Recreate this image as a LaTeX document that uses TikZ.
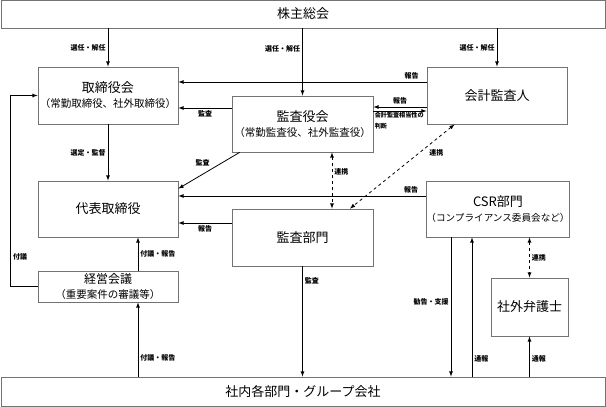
\documentclass[tikz,border=0pt]{standalone}
\usepackage{fontspec}
\setmainfont{Noto Sans CJK JP}
\usepackage{tikz}
\usetikzlibrary{calc}

\definecolor{boxline}{gray}{0.45}
\tikzset{
	box/.style={draw=boxline, line width=0.8pt, align=center, inner sep=0pt},
	lbl/.style={font=\fontsize{7}{8}\selectfont\bfseries, inner sep=2pt},
	big/.style={font=\fontsize{13}{15}\selectfont},
}
\newcommand{\sub}[1]{{\fontsize{10.5}{12}\selectfont #1}}

\begin{document}
\begin{tikzpicture}[x=1pt, y=-1pt, line width=0.8pt]
				\useasboundingbox (0,0) rectangle (606,407);
				
				\node[box, big, minimum width=604pt, minimum height=28pt] (soukai) at (303, 14) {株主総会};
				\node[box, big, minimum width=140pt, minimum height=57pt] (torishimari) at (108, 95.5) {取締役会\\\sub{（常勤取締役、社外取締役）}};
				\node[box, big, minimum width=141pt, minimum height=56pt] (kansayaku) at (302.5, 124) {監査役会\\\sub{（常勤監査役、社外監査役）}};
				\node[box, big, minimum width=140pt, minimum height=57pt] (kaikei) at (497, 95.5) {会計監査人};
				\node[box, big, minimum width=140pt, minimum height=56pt] (daihyo) at (108, 209) {代表取締役};
				\node[box, big, minimum width=141pt, minimum height=57pt] (kansabu) at (302.5, 237.5) {監査部門};
				\node[box, big, minimum width=140pt, minimum height=56pt] (csr) at (498, 209) {CSR部門\\{\fontsize{9.6}{12}\selectfont（コンプライアンス委員会など）}};
				\node[box, big, minimum width=140pt, minimum height=31pt] (keiei) at (108, 286.5) {\fontsize{12}{13}\selectfont 経営会議\\\sub{（重要案件の審議等）}};
				\node[box, big, minimum width=77pt, minimum height=58pt] (bengoshi) at (529.5, 307) {社外弁護士};
				\node[box, big, minimum width=604pt, minimum height=29pt] (shanai) at (303, 391.5) {社内各部門・グループ会社};
				
				\draw [-latex](soukai.south -| torishimari) -- (torishimari.north) node[lbl, midway, left]{選任・解任};
				\draw [-latex](soukai.south -| kansayaku) -- (kansayaku.north) node[lbl, pos=0.3, left]{選任・解任};
				\draw [-latex](soukai.south -| kaikei) -- (kaikei.north) node[lbl, midway, left]{選任・解任};
				
				\coordinate (k0) at ([yshift=13.5pt]kaikei.west);
				\draw [-latex](k0) -- (k0 -| torishimari.east) node[lbl, pos=0.06, above]{報告};
				\coordinate (k1) at ([yshift=16pt]kansayaku.west);
				\draw [-latex](k1) -- (k1 -| torishimari.east) node[lbl, midway, below]{監査};
				\coordinate (h1) at ([yshift=17pt]kansayaku.east);
				\coordinate (h2) at ([yshift=13pt]kansayaku.east);
				\draw [latex-](h1) -- (h1 -| kaikei.west) node[lbl, midway, above]{報告};
				\draw [-latex](h2) -- (h2 -| kaikei.west);
				\node[lbl, below right, align=left, inner sep=1pt, font=\fontsize{6.1}{11}\selectfont\bfseries] (soutou) at (h2) {会計監査相当性の\\判断};
				
				\draw [-latex]([xshift=8pt]kansayaku.south west) -- ([yshift=-8pt]daihyo.north east) node[lbl, pos=0.45, above left]{監査};
				\draw [-latex](torishimari) -- (daihyo) node[lbl, midway, left]{選定・監督};
				
				\coordinate (c1) at ([yshift=13pt]csr.west);
				\draw [-latex](c1) -- (c1 -| daihyo.east) node[lbl, pos=0.06, above]{報告};
				\coordinate (b1) at ([yshift=14.5pt]kansabu.west);
				\draw [-latex](b1) -- (b1 -| daihyo.east) node[lbl, midway, below]{報告};
				
				\draw [latex-latex, dashed]([xshift=29.5pt]kansayaku.south) -- ([xshift=29.5pt]kansabu.north) node[lbl, pos=0.35, right]{連携};
				\draw [latex-latex, dashed]([xshift=28pt]kaikei.south west) -- ([xshift=47.5pt]kansabu.north) node[lbl, pos=0.34, right=8pt]{連携};
				
				\draw [-latex]([xshift=30pt]keiei.north) -- ([xshift=30pt]daihyo.south) node[lbl, midway, right]{付議・報告};
				\draw [-latex](keiei.west) -- ++(-27,0) coordinate (lp) |- (torishimari.west);
				\node[lbl, right] (fugi) at ([yshift=30pt]lp) {付議};
				\draw [-latex]([xshift=30pt]keiei.south |- shanai.north) -- ([xshift=30pt]keiei.south) node[lbl, pos=0.25, right]{付議・報告};
				
				\draw [-latex](kansabu.south) -- (kansabu.south |- shanai.north) node[lbl, pos=0.13, right]{監査};
				\draw [-latex]([xshift=-47pt]csr.south) -- ([xshift=-47pt]csr.south |- shanai.north) node[lbl, pos=0.46, left]{勧告・支援};
				\draw [-latex]([xshift=-26pt]csr.south |- shanai.north) -- ([xshift=-26pt]csr.south) node[lbl, pos=0.13, right]{通報};
				\draw [latex-latex, dashed](bengoshi.north |- csr.south) -- (bengoshi.north) node[lbl, midway, right]{連携};
				\draw [-latex](bengoshi.south |- shanai.north) -- (bengoshi.south) node[lbl, pos=0.44, right]{通報};
			\end{tikzpicture}
\end{document}
